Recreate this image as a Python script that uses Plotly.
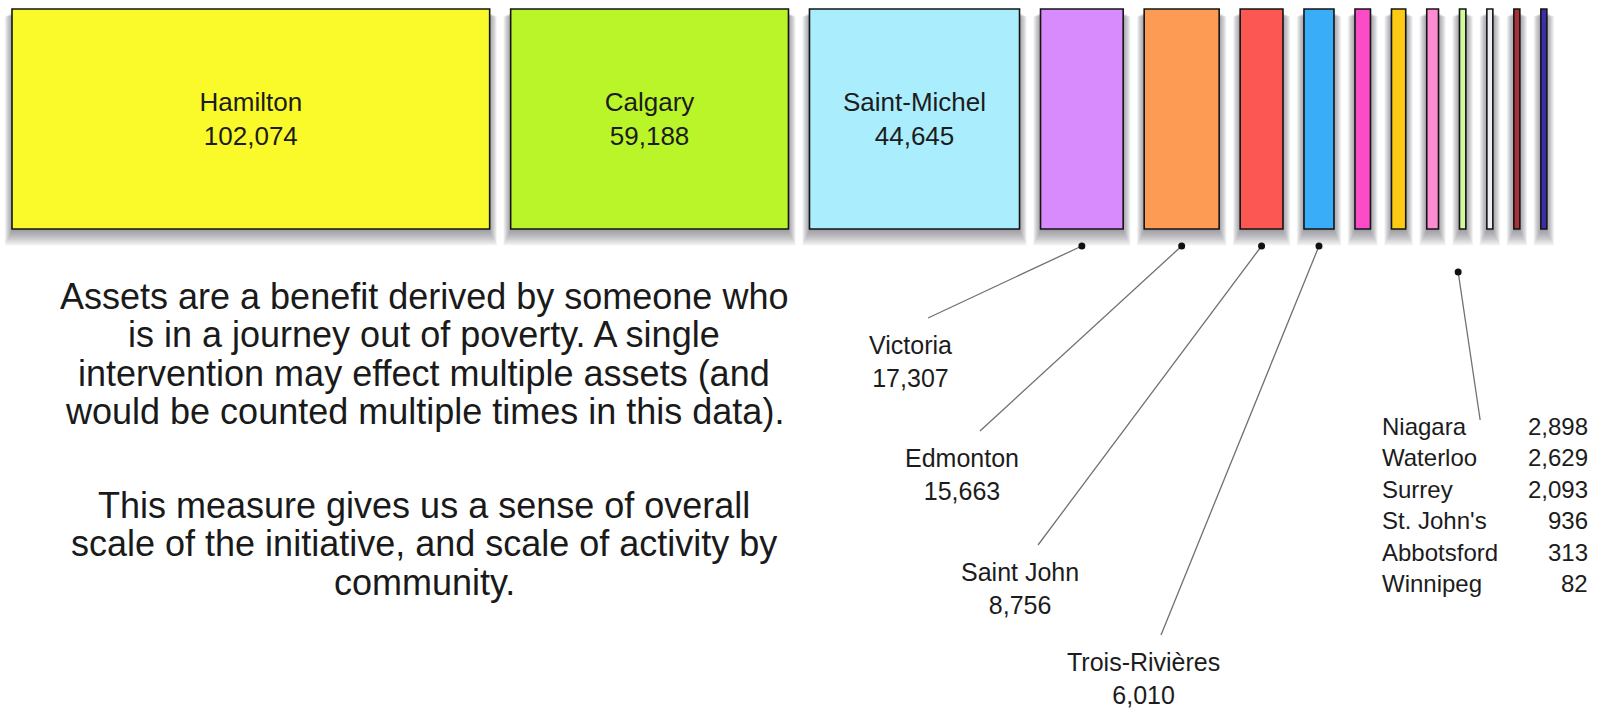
import plotly.graph_objects as go

# ---------------- data ----------------
cities = ["Hamilton", "Calgary", "Saint-Michel", "Victoria", "Edmonton", "Saint John",
          "Trois-Rivières", "Niagara", "Waterloo", "Surrey", "St. John's", "Abbotsford",
          "Winnipeg", ""]
assets = [102074, 59188, 44645, 17307, 15663, 8756, 6010, 2898, 2629, 2093, 936, 313, 82, None]
bar_colors = ["#FAFA2A", "#BAF52A", "#AAEEFD", "#D88BFC", "#FD9B55", "#FD5753", "#3AADF9",
              "#FA4BC8", "#FDCB14", "#FD8CD3", "#CFF99A", "#EEEEF2", "#A8313A", "#3B2FA8"]

paragraph_1 = ["Assets are a benefit derived by someone who",
               "is in a journey out of poverty. A single",
               "intervention may effect multiple assets (and",
               "would be counted multiple times in this data)."]
paragraph_2 = ["This measure gives us a sense of overall",
               "scale of the initiative, and scale of activity by",
               "community."]

# ---------------- layout constants ----------------
W, H = 1599, 708
FONT = "Liberation Sans, Arial, Helvetica, sans-serif"
SCALE, PAD, MIN_W, GAP, X0 = 0.00466, 2.0, 6.0, 21.0, 12.0
TOP, BOTTOM = 9.0, 229.0
N_INSIDE, N_CALLOUT = 3, 4

widths = [max(SCALE * (v or 0) + PAD, MIN_W) for v in assets]
lefts = []
x = X0
for w in widths:
    lefts.append(x)
    x += w + GAP
centers = [l + w / 2 for l, w in zip(lefts, widths)]

texts = [f"{c}<br>{v:,}" if i < N_INSIDE else "" for i, (c, v) in enumerate(zip(cities, assets))]

fig = go.Figure()

# soft drop shadows under the boxes
shapes = []
for l, w in zip(lefts, widths):
    for k in range(1, 10):
        shapes.append(dict(type="rect", xref="x", yref="y", layer="below",
                           x0=l - 0.9 * k + 1, x1=l + w + 0.9 * k - 1,
                           y0=TOP + 3 + 0.5 * k, y1=BOTTOM + 1.8 * k,
                           line=dict(width=0), fillcolor="rgba(70,70,85,0.075)"))

fig.add_trace(go.Bar(
    x=centers, y=[BOTTOM - TOP] * len(assets), base=TOP, width=widths,
    marker=dict(color=bar_colors, line=dict(color="#141414", width=1.6)),
    text=texts, textposition="inside", insidetextanchor="middle", textangle=0,
    textfont=dict(family=FONT, size=26, color="#1c1c1c"),
    hoverinfo="skip", cliponaxis=False, showlegend=False))

# callouts for the middle communities
label_pos = [(910, 346), (962, 459), (1020, 573), (1143, 663)]
DOT_Y = 246
annotations = []
for j in range(N_CALLOUT):
    i = N_INSIDE + j
    lx, ly = label_pos[j]
    fig.add_trace(go.Scatter(x=[centers[i], lx + 18], y=[DOT_Y, ly - 28], mode="lines",
                             line=dict(color="#707070", width=1.3), hoverinfo="skip",
                             showlegend=False))
    fig.add_trace(go.Scatter(x=[centers[i]], y=[DOT_Y], mode="markers",
                             marker=dict(color="#111", size=7), hoverinfo="skip",
                             showlegend=False))
    annotations.append(dict(x=lx, y=ly + 15, xref="x", yref="y", showarrow=False,
                            text=f"{cities[i]}<br>{assets[i]:,}", align="center",
                            font=dict(family=FONT, size=25, color="#1c1c1c")))

# group callout for the smallest communities
small_idx = [i for i in range(N_INSIDE + N_CALLOUT, len(assets))]
gx = sum(centers[i] for i in small_idx) / len(small_idx)
fig.add_trace(go.Scatter(x=[gx, gx + 22], y=[272, 420], mode="lines",
                         line=dict(color="#707070", width=1.3), hoverinfo="skip",
                         showlegend=False))
fig.add_trace(go.Scatter(x=[gx], y=[272], mode="markers",
                         marker=dict(color="#111", size=7), hoverinfo="skip",
                         showlegend=False))

row = 0
for i in small_idx:
    if assets[i] is None:
        continue
    y = 426 + 31.5 * row
    annotations.append(dict(x=1380, y=y, xref="x", yref="y", xanchor="left", showarrow=False,
                            text=cities[i], font=dict(family=FONT, size=24, color="#1c1c1c")))
    annotations.append(dict(x=1590, y=y, xref="x", yref="y", xanchor="right", showarrow=False,
                            text=f"{assets[i]:,}", font=dict(family=FONT, size=24, color="#1c1c1c")))
    row += 1

# explanatory paragraph
for k, line in enumerate(paragraph_1):
    annotations.append(dict(x=424, y=296 + 38.5 * k, xref="x", yref="y", showarrow=False,
                            text=line, font=dict(family=FONT, size=36, color="#1a1a1a")))
for k, line in enumerate(paragraph_2):
    annotations.append(dict(x=424, y=505 + 38.5 * k, xref="x", yref="y", showarrow=False,
                            text=line, font=dict(family=FONT, size=36, color="#1a1a1a")))

fig.update_layout(
    width=W, height=H, margin=dict(l=0, r=0, t=0, b=0),
    paper_bgcolor="white", plot_bgcolor="white",
    xaxis=dict(range=[0, W], visible=False, fixedrange=True),
    yaxis=dict(range=[H, 0], visible=False, fixedrange=True),
    shapes=shapes, annotations=annotations, showlegend=False, bargap=0)

fig.write_html("out.html", config={"displayModeBar": False, "staticPlot": True},
               post_script="document.body.style.margin='0';document.body.style.overflow='hidden';")
